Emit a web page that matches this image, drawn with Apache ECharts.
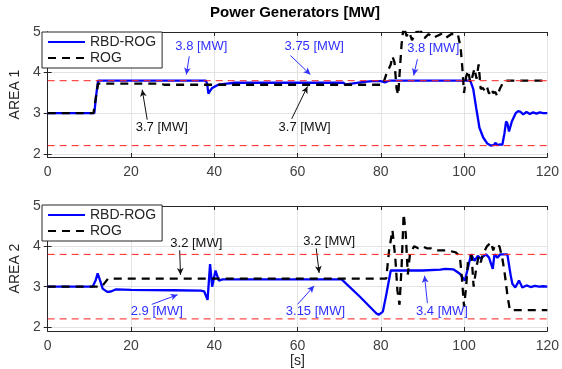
<!DOCTYPE html>
<html><head><meta charset="utf-8">
<script src="https://cdn.jsdelivr.net/npm/echarts@6/dist/echarts.min.js"></script>
<style>html,body{margin:0;padding:0;background:#fff}#c{width:562px;height:369px}</style>
</head><body><div id="c"></div>
<script>
const xTicks = [0, 20, 40, 60, 80, 100, 120];
const yTicks = [2, 3, 4, 5];
const limits = [3.8, 2.2];
const seriesNames = ['RBD-ROG', 'ROG'];

const area1RBD = [[0,3],[11.2,3],[11.6,3.4],[12.1,3.8],[38,3.8],[38.3,3.72],[38.6,3.48],[39,3.55],[39.5,3.62],[40.2,3.66],[41,3.7],[43,3.73],[45,3.75],[71,3.75],[71.5,3.71],[73,3.73],[76,3.77],[78,3.79],[80,3.79],[81,3.76],[82,3.8],[101.5,3.8],[102.2,3.6],[102.9,3.14],[103.7,2.64],[104.6,2.4],[105.6,2.25],[106.5,2.2],[107.2,2.22],[107.6,2.27],[108,2.21],[108.7,2.23],[109.2,2.22],[109.7,2.5],[110.1,2.8],[110.4,2.75],[110.8,2.55],[111.5,2.8],[112.4,3.0],[113,3.05],[113.6,3.03],[114.2,2.97],[115,3.03],[115.8,2.98],[116.6,3.02],[117.4,2.99],[118.2,3.02],[119,3.0],[120,3.0]];
const area1ROG = [[0,3],[11,3],[11.6,3.4],[12.1,3.73],[27,3.73],[28,3.7],[80.5,3.7],[81.3,3.95],[82.4,4.2],[82.8,4.4],[83.3,4.25],[83.8,3.6],[84.2,3.45],[84.6,4.1],[85,4.7],[85.5,5.15],[86.2,4.9],[86.8,5.0],[87.5,4.8],[88.5,5.0],[89.5,5.05],[90.5,4.85],[91.5,4.95],[92.5,4.85],[93.5,4.9],[94.5,4.95],[95.5,4.85],[97,4.95],[98.5,4.95],[99.2,4.6],[99.6,4.1],[100,3.5],[100.5,3.9],[101,4.05],[101.5,3.75],[102,3.9],[102.5,4.1],[103,3.85],[103.5,4.2],[104,3.6],[104.5,3.62],[105,3.55],[105.5,3.65],[106,3.48],[106.5,3.6],[107,3.5],[107.5,3.52],[108,3.42],[108.6,3.6],[109.2,3.72],[109.7,3.8],[120,3.8]];

const area2RBD = [[0,3],[10.8,3],[11.5,3.15],[12,3.33],[12.6,3.15],[13.2,2.95],[14.3,2.87],[15.2,2.88],[16.3,2.93],[20,2.92],[30,2.91],[36.8,2.9],[37.6,2.88],[38.4,2.67],[39,3.56],[39.5,3.0],[40.3,3.4],[41.1,3.15],[42,3.18],[70.6,3.18],[75,2.75],[78.9,2.34],[79.5,2.3],[80.5,2.38],[81.3,2.79],[82.4,3.4],[90,3.4],[94.3,3.42],[95.5,3.44],[97.4,3.43],[99,3.32],[100.2,3.15],[101.7,3.8],[102.5,3.64],[103.3,3.76],[104,3.7],[105.3,3.8],[106,3.72],[106.9,3.44],[107.3,3.8],[108,3.72],[108.7,3.8],[110.4,3.8],[111.2,3.28],[111.6,3.07],[112.3,2.98],[113.2,3.15],[114,2.98],[115,3.03],[116,2.99],[117,3.02],[118,3.0],[119,3.01],[120,3.0]];
const area2ROG = [[0,3],[13,3],[14.5,3.2],[81.3,3.2],[82,3.9],[82.8,4.4],[83.5,3.7],[84,2.9],[84.5,2.55],[85,3.5],[85.5,4.8],[86,4.3],[86.5,3.3],[87,3.8],[88,4.0],[89,3.95],[90,4.0],[91,3.95],[92,3.95],[93,3.9],[94,3.9],[96,3.9],[98,3.85],[99,3.75],[99.5,3.2],[100,2.5],[100.5,3.0],[101,3.7],[101.8,3.78],[102.3,3.0],[103,3.5],[103.5,3.75],[104,3.6],[104.5,3.8],[105.5,4.0],[106.5,4.1],[107,3.9],[107.5,4.05],[108.5,4.0],[109.2,3.7],[109.8,3.3],[110.4,2.8],[111,2.42],[120,2.42]];

// annotations: text, colour key, text anchor (data coords), arrow from -> to (data coords)
const area1Notes = [
  {text:'3.8 [MW]', kind:'blue', at:[36.9,4.64], from:[34.0,4.40], to:[33.3,3.95]},
  {text:'3.75 [MW]', kind:'blue', at:[64.0,4.64], from:[58.3,4.42], to:[63.1,3.95]},
  {text:'3.8 [MW]', kind:'blue', at:[92.6,4.6], from:[88.8,4.33], to:[87.9,3.93]},
  {text:'3.7 [MW]', kind:'black', at:[27.4,2.64], from:[23.9,2.84], to:[22.7,3.58]},
  {text:'3.7 [MW]', kind:'black', at:[61.7,2.64], from:[58.6,2.86], to:[62.4,3.66]}
];
const area2Notes = [
  {text:'3.2 [MW]', kind:'black', at:[35.7,4.07], from:[31.7,3.90], to:[31.9,3.29]},
  {text:'2.9 [MW]', kind:'blue', at:[26.2,2.39], from:[25.0,2.56], to:[31.2,2.80]},
  {text:'3.2 [MW]', kind:'black', at:[67.6,4.12], from:[64.5,3.95], to:[65.2,3.34]},
  {text:'3.15 [MW]', kind:'blue', at:[64.3,2.39], from:[60.0,2.56], to:[64.0,3.02]},
  {text:'3.4 [MW]', kind:'blue', at:[94.7,2.39], from:[91.2,2.59], to:[90.5,3.27]}
];

const FONT = 'Liberation Sans, Arial, Helvetica, sans-serif';
const TXT = '#262626';
const noteColors = {blue:'#3030ff', black:'#111111'};
const xMin = xTicks[0], xMax = xTicks[xTicks.length-1];

function mainY(grid, min, name) {
  return {
    gridIndex: grid, type:'value', min: min, max: 5,
    name: name, nameLocation:'middle', nameGap: 22, nameRotate: 90,
    nameTextStyle:{fontFamily:FONT, fontSize:14, color:TXT},
    axisLine:{show:true, lineStyle:{color:TXT, width:1}},
    axisTick:{show:true, inside:true, length:4, customValues: yTicks, lineStyle:{color:TXT}},
    axisLabel:{customValues: yTicks, fontFamily:FONT, fontSize:14, color:'#404040', margin:7},
    splitLine:{show:true, lineStyle:{color:'#e3e3e3', width:1}}
  };
}
function rightY(grid, min) {
  return {
    gridIndex: grid, type:'value', min:min, max:5, position:'right',
    axisLine:{show:true, lineStyle:{color:TXT, width:1}},
    axisTick:{show:true, inside:true, length:4, customValues: yTicks, lineStyle:{color:TXT}},
    axisLabel:{show:false}, splitLine:{show:false}
  };
}
function mainX(grid, name) {
  return {
    gridIndex: grid, type:'value', min: xMin, max: xMax, interval: xTicks[1]-xTicks[0],
    name: name, nameLocation:'middle', nameGap: 23,
    nameTextStyle:{fontFamily:FONT, fontSize:14, color:TXT},
    axisLine:{show:true, onZero:false, lineStyle:{color:TXT, width:1}},
    axisTick:{show:true, inside:true, length:4, lineStyle:{color:TXT}},
    axisLabel:{fontFamily:FONT, fontSize:14, color:'#404040', margin:8},
    splitLine:{show:true, lineStyle:{color:'#e3e3e3', width:1}}
  };
}
function topX(grid) {
  return {
    gridIndex: grid, type:'value', min: xMin, max: xMax, interval: xTicks[1]-xTicks[0], position:'top',
    axisLine:{show:true, onZero:false, lineStyle:{color:TXT, width:1}},
    axisTick:{show:true, inside:true, length:4, lineStyle:{color:TXT}},
    axisLabel:{show:false}, splitLine:{show:false}
  };
}

function limitSeries(idx) {
  return limits.map(v => ({
    type:'line', xAxisIndex: idx*2, yAxisIndex: idx*2, data: [[xMin, v], [xMax, v]],
    symbol:'none', silent:true, z: 5,
    lineStyle:{color:'#ff2020', type:[7,5], width:1}, itemStyle:{color:'#ff2020'}
  }));
}
function dataSeries(idx, rbd, rog) {
  return [
    {name: seriesNames[0], type:'line', xAxisIndex: idx*2, yAxisIndex: idx*2, data: rbd,
     symbol:'none', z: 3, lineStyle:{color:'#0000ff', width:2.3}, itemStyle:{color:'#0000ff'}},
    {name: seriesNames[1], type:'line', xAxisIndex: idx*2, yAxisIndex: idx*2, data: rog,
     symbol:'none', z: 4, lineStyle:{color:'#000000', width:2.3, type:[8,6]}, itemStyle:{color:'#000000'}}
  ];
}
function noteSeries(idx, notes) {
  return {
    type:'scatter', xAxisIndex: idx*2, yAxisIndex: idx*2, symbolSize: 0, z: 6, silent: true,
    itemStyle:{color:'#000', opacity:1},
    label:{show:true, position:'inside', fontFamily: FONT, fontSize: 13},
    data: notes.map(n => ({value: n.at, label:{show:true, position:'inside', formatter: n.text,
      color: noteColors[n.kind], textBorderWidth:0, fontFamily: FONT, fontSize: 13}})),
    markLine:{silent:true, animation:false, symbol:['none','arrow'], symbolSize:[5,7], label:{show:false},
      data: notes.map(n => [
        {coord: n.from, lineStyle:{color: noteColors[n.kind], width:1, type:'solid', opacity:1}, itemStyle:{color: noteColors[n.kind]}},
        {coord: n.to}
      ])}
  };
}
function legendFor(top) {
  return {
    data: seriesNames, orient:'vertical', left: 42, top: top,
    itemWidth: 37, itemHeight: 14, itemGap: 2,
    backgroundColor:'#ffffff', borderColor:'#262626', borderWidth:1, borderRadius:0,
    padding:[3,6,3,5], selectedMode:false, z: 10,
    itemStyle:{opacity:0},
    textStyle:{fontFamily:FONT, fontSize:14, color:TXT}
  };
}

const chart = echarts.init(document.getElementById('c'), null, {renderer:'canvas'});
chart.setOption({
  animation:false,
  backgroundColor:'#ffffff',
  title:{text:'Power Generators [MW]', left:210, top:5, padding:0,
    textStyle:{fontFamily:FONT, fontSize:15, fontWeight:'bold', color:'#000'}},
  legend:[legendFor(32), legendFor(205)],
  grid:[
    {left:41, top:32, width:508, height:125, show:false},
    {left:41, top:206, width:508, height:127, show:false}
  ],
  xAxis:[mainX(0, ''), topX(0), mainX(1, '[s]'), topX(1)],
  yAxis:[mainY(0, 1.92, 'AREA 1'), rightY(0, 1.92), mainY(1, 1.9, 'AREA 2'), rightY(1, 1.9)],
  series:[
    ...limitSeries(0), ...limitSeries(1),
    ...dataSeries(0, area1RBD, area1ROG),
    ...dataSeries(1, area2RBD, area2ROG),
    noteSeries(0, area1Notes),
    noteSeries(1, area2Notes)
  ]
});
</script></body></html>
